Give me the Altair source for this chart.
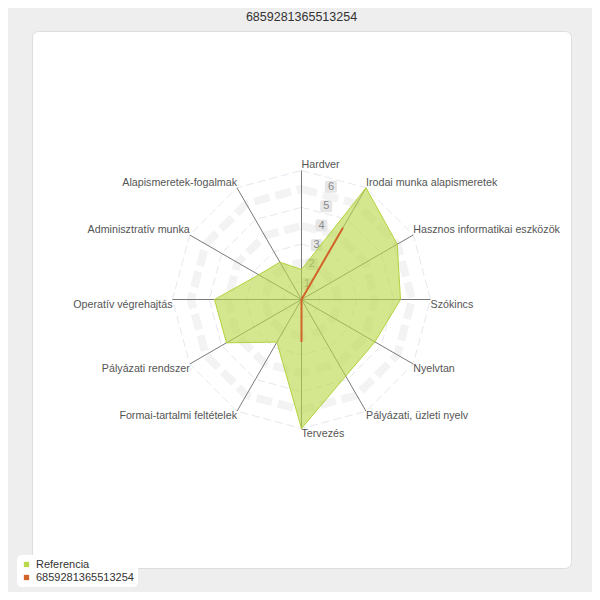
import math
import altair as alt
import pandas as pd

# ---------------- data ----------------
categories = [
    "Hardver",
    "Irodai munka alapismeretek",
    "Hasznos informatikai eszközök",
    "Szókincs",
    "Nyelvtan",
    "Pályázati, üzleti nyelv",
    "Tervezés",
    "Formai-tartalmi feltételek",
    "Pályázati rendszer",
    "Operatív végrehajtás",
    "Adminisztratív munka",
    "Alapismeretek-fogalmak",
]
referencia = [1.63, 7.0, 6.0, 5.37, 4.6, 4.8, 7.0, 2.67, 4.7, 4.72, 2.68, 2.34]
person = [0, 4.5, 0, 0, 0, 0, 2.3, 0, 0, 0, 0, 0]
series_names = ["Referencia", "6859281365513254"]
tick_values = [1, 2, 3, 4, 5, 6]
band_levels = [2, 4, 6]
line_levels = [1, 3, 5, 7]
r_max = 7
title_text = "6859281365513254"

# ---------------- tables ----------------
n = len(categories)
idx = list(range(n))
cat_df = pd.DataFrame({"category": categories, "idx": idx, "value": referencia, "p": person, "rmax": [r_max] * n})
band_df = pd.DataFrame([{"level": lv, "idx": i} for lv in band_levels for i in idx])
line_df = pd.DataFrame([{"level": lv, "idx": i} for lv in line_levels for i in idx])
tick_df = pd.DataFrame({"t": tick_values, "label": [str(t) for t in tick_values]})
legend_df = pd.DataFrame({"series": series_names})

# ---------------- geometry ----------------
PX_PER_UNIT = 18.43
W, H = 539, 537
xd = W / 2 / PX_PER_UNIT
yd = H / 2 / PX_PER_UNIT
xs = alt.Scale(domain=[-xd, xd], nice=False, zero=False)
ys = alt.Scale(domain=[-yd, yd], nice=False, zero=False)
ANG = "datum.idx * PI / 6"

FONT = "Liberation Sans"
GREEN = "#b9d94a"
ORANGE = "#d2642a"

base_cat = alt.Chart(cat_df)


def ring_layer(df, **mark):
    return alt.Chart(df).transform_calculate(
        x=f"datum.level * sin({ANG})", y=f"datum.level * cos({ANG})"
    ).mark_line(interpolate="linear-closed", **mark).encode(
        x=alt.X("x:Q", scale=xs, axis=None),
        y=alt.Y("y:Q", scale=ys, axis=None),
        detail="level:N",
        order="idx:Q",
    )


rings_thick = ring_layer(band_df, stroke="#f3f3f3", strokeWidth=8, strokeDash=[16, 6])
rings_thin = ring_layer(line_df, stroke="#e6e8ef", strokeWidth=1, strokeDash=[8, 4])

tick_pos = alt.Chart(tick_df).transform_calculate(
    x="datum.t * 0.258 + 0.05", y="datum.t * 1.053 - 0.2"
)
tick_boxes = tick_pos.mark_rect(
    fill="#e6e6e6", xOffset=-6, x2Offset=6, yOffset=-6, y2Offset=6, cornerRadius=2
).encode(
    x=alt.X("x:Q", scale=xs, axis=None), x2="x:Q",
    y=alt.Y("y:Q", scale=ys, axis=None), y2="y:Q",
)
tick_text = tick_pos.mark_text(font=FONT, fontSize=11, color="#8a8a8a").encode(
    x=alt.X("x:Q", scale=xs, axis=None),
    y=alt.Y("y:Q", scale=ys, axis=None),
    text="label:N",
)

spokes = base_cat.transform_calculate(
    x0="0", y0="0", x2=f"datum.rmax * sin({ANG})", y2=f"datum.rmax * cos({ANG})"
).mark_rule(color="#7a7a7a", strokeWidth=1).encode(
    x=alt.X("x0:Q", scale=xs, axis=None),
    y=alt.Y("y0:Q", scale=ys, axis=None),
    x2="x2:Q",
    y2="y2:Q",
)

area = base_cat.transform_calculate(
    x=f"datum.value * sin({ANG})", y=f"datum.value * cos({ANG})"
).mark_line(
    interpolate="linear-closed", fill=GREEN, fillOpacity=0.62, stroke="#b3d23c", strokeWidth=1
).encode(
    x=alt.X("x:Q", scale=xs, axis=None),
    y=alt.Y("y:Q", scale=ys, axis=None),
    order="idx:Q",
)

pline = base_cat.transform_calculate(
    x=f"datum.p * sin({ANG})", y=f"datum.p * cos({ANG})"
).mark_line(interpolate="linear-closed", stroke=ORANGE, strokeWidth=2).encode(
    x=alt.X("x:Q", scale=xs, axis=None),
    y=alt.Y("y:Q", scale=ys, axis=None),
    order="idx:Q",
)

lab_base = base_cat.transform_calculate(
    x=f"datum.rmax * sin({ANG})", y=f"datum.rmax * cos({ANG})"
)


def labels(filter_expr, align, baseline):
    return lab_base.transform_filter(filter_expr).mark_text(
        font=FONT, fontSize=10.7, color="#555555", align=align, baseline=baseline
    ).encode(
        x=alt.X("x:Q", scale=xs, axis=None),
        y=alt.Y("y:Q", scale=ys, axis=None),
        text="category:N",
    )


lab_lb = labels("datum.idx <= 2", "left", "bottom")
lab_lt = labels("datum.idx >= 3 && datum.idx <= 6", "left", "top")
lab_rt = labels("datum.idx >= 7 && datum.idx <= 9", "right", "top")
lab_rb = labels("datum.idx >= 10", "right", "bottom")

title = alt.Chart(pd.DataFrame({"t": [title_text]})).mark_text(
    font=FONT, fontSize=12.5, color="#333333"
).encode(x=alt.value(W / 2), y=alt.value(-14), text="t:N")

legend_layer = alt.Chart(legend_df).mark_square(size=0, opacity=1).encode(
    x=alt.value(0),
    y=alt.value(0),
    color=alt.Color(
        "series:N",
        scale=alt.Scale(domain=series_names, range=[GREEN, ORANGE]),
        sort=series_names,
        legend=alt.Legend(
            title=None,
            orient="none",
            legendX=-15,
            legendY=524,
            symbolType="square",
            symbolSize=28,
            symbolStrokeWidth=0,
            labelFont=FONT,
            labelFontSize=11,
            labelColor="#333333",
            fillColor="white",
            cornerRadius=5,
            padding=4,
            rowPadding=1,
            offset=0,
        ),
    ),
)

chart = alt.layer(
    rings_thick, rings_thin, tick_boxes, tick_text, spokes, area, pline,
    lab_lb, lab_lt, lab_rt, lab_rb, title, legend_layer,
).properties(
    width=W, height=H,
    autosize=alt.AutoSizeParams(type="none"),
    padding={"left": 24, "top": 23, "right": 21, "bottom": 24},
    background="#eeeeee",
).configure_view(
    fill="white", stroke="#dddddd", cornerRadius=6,
)

chart.save("out.html", embed_options={"renderer": "svg", "actions": False})
